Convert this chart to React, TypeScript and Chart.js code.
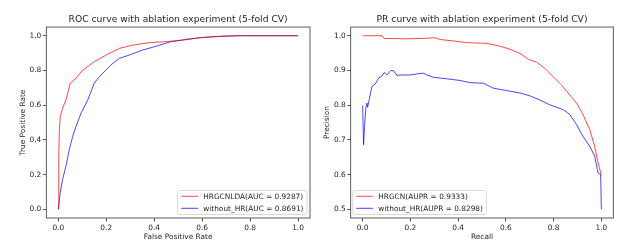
import React, { useEffect, useRef } from 'react';
import { Chart, registerables } from 'chart.js';

Chart.register(...registerables);

// ---------- data ----------
const rocTickValues = [0, 0.2, 0.4, 0.6, 0.8, 1.0];
const prYTickValues = [0.5, 0.6, 0.7, 0.8, 0.9, 1.0];

const rocRedLabel = 'HRGCNLDA(AUC = 0.9287)';
const rocRedFpr = [0, 0.002, 0.004, 0.008, 0.018, 0.032, 0.05, 0.074, 0.1, 0.15, 0.2, 0.255, 0.31, 0.38, 0.45, 0.52, 0.59, 0.66, 0.73, 1.0];
const rocRedTpr = [0, 0.3, 0.44, 0.535, 0.583, 0.63, 0.727, 0.755, 0.8, 0.85, 0.889, 0.927, 0.946, 0.96, 0.966, 0.975, 0.989, 0.996, 1.0, 1.0];

const rocBlueLabel = 'without_HR(AUC = 0.8691)';
const rocBlueFpr = [0, 0.008, 0.018, 0.032, 0.046, 0.06, 0.074, 0.095, 0.123, 0.15, 0.172, 0.193, 0.22, 0.255, 0.297, 0.353, 0.41, 0.465, 0.535, 0.605, 0.675, 0.76, 1.0];
const rocBlueTpr = [0, 0.096, 0.172, 0.249, 0.344, 0.42, 0.478, 0.554, 0.63, 0.727, 0.765, 0.794, 0.832, 0.87, 0.889, 0.918, 0.94, 0.964, 0.979, 0.99, 0.996, 1.0, 1.0];

const prRedLabel = 'HRGCN(AUPR = 0.9333)';
const prRedRecall = [0, 0.081, 0.09, 0.143, 0.171, 0.24, 0.304, 0.325, 0.38, 0.436, 0.52, 0.575, 0.617, 0.659, 0.694, 0.728, 0.763, 0.798, 0.833, 0.868, 0.896, 0.923, 0.951, 0.972, 0.986, 1.0];
const prRedPrecision = [1.0, 1.0, 0.992, 0.992, 0.991, 0.992, 0.994, 0.989, 0.985, 0.98, 0.978, 0.97, 0.961, 0.949, 0.932, 0.924, 0.906, 0.882, 0.858, 0.829, 0.806, 0.773, 0.73, 0.682, 0.634, 0.598];

const prBlueLabel = 'without_HR(AUPR = 0.8298)';
const prBlueRecall = [0, 0.004, 0.008, 0.014, 0.018, 0.021, 0.028, 0.039, 0.053, 0.067, 0.081, 0.09, 0.102, 0.118, 0.13, 0.143, 0.171, 0.2, 0.227, 0.255, 0.269, 0.297, 0.352, 0.408, 0.45, 0.506, 0.547, 0.603, 0.659, 0.7, 0.742, 0.784, 0.84, 0.868, 0.896, 0.923, 0.951, 0.972, 0.986, 0.993, 0.997, 1.0];
const prBluePrecision = [0.798, 0.686, 0.739, 0.796, 0.806, 0.794, 0.817, 0.854, 0.861, 0.878, 0.884, 0.894, 0.887, 0.9, 0.899, 0.886, 0.887, 0.887, 0.89, 0.892, 0.887, 0.88, 0.876, 0.871, 0.865, 0.863, 0.849, 0.842, 0.835, 0.827, 0.815, 0.801, 0.787, 0.773, 0.744, 0.71, 0.682, 0.653, 0.605, 0.602, 0.6, 0.5];

// ---------- style ----------
const FONT = 'DejaVu Sans';
const FS = 7.4;
const TEXT = '#262626';
const RED = 'rgba(255,0,0,0.72)';
const BLUE = 'rgba(0,0,255,0.72)';

const toPoints = (xs: number[], ys: number[]) => xs.map((x, i) => ({ x, y: ys[i] }));

const framePlugin = {
  id: 'frameLegend',
  afterDraw(chart: any, _args: any, opts: any) {
    const { ctx, chartArea: a } = chart;
    ctx.save();
    // frame
    ctx.strokeStyle = '#333';
    ctx.lineWidth = 0.8;
    ctx.strokeRect(a.left, a.top, a.right - a.left, a.bottom - a.top);
    // legend
    ctx.font = `${FS}px "${FONT}"`;
    const ds = chart.data.datasets;
    const textW = Math.max(...ds.map((d: any) => ctx.measureText(d.label).width));
    const padL = 3.5, lineLen = 17, gap = 5, padR = 3.5, rowH = 12, boxH = 24;
    const boxW = padL + lineLen + gap + textW + padR;
    const x0 = opts.corner === 'right' ? a.right - 3 - boxW : a.left + 2;
    const y0 = a.bottom - 3.5 - boxH;
    ctx.beginPath();
    const r = 2;
    ctx.moveTo(x0 + r, y0);
    ctx.arcTo(x0 + boxW, y0, x0 + boxW, y0 + boxH, r);
    ctx.arcTo(x0 + boxW, y0 + boxH, x0, y0 + boxH, r);
    ctx.arcTo(x0, y0 + boxH, x0, y0, r);
    ctx.arcTo(x0, y0, x0 + boxW, y0, r);
    ctx.closePath();
    ctx.fillStyle = 'rgba(255,255,255,0.85)';
    ctx.fill();
    ctx.strokeStyle = '#d0d0d0';
    ctx.lineWidth = 0.8;
    ctx.stroke();
    ds.forEach((d: any, i: number) => {
      const y = y0 + 5.8 + i * rowH;
      ctx.strokeStyle = d.borderColor;
      ctx.lineWidth = 1;
      ctx.beginPath();
      ctx.moveTo(x0 + padL, y);
      ctx.lineTo(x0 + padL + lineLen, y);
      ctx.stroke();
      ctx.fillStyle = TEXT;
      ctx.textBaseline = 'middle';
      ctx.textAlign = 'left';
      ctx.fillText(d.label, x0 + padL + lineLen + gap, y + 0.5);
    });
    ctx.restore();
  },
};

function makeScale(opts: {
  axis: 'x' | 'y';
  min: number;
  max: number;
  ticks: number[];
  title: string;
  size: number;
  titlePad: number;
}) {
  const isX = opts.axis === 'x';
  return {
    type: 'linear',
    position: isX ? 'bottom' : 'left',
    min: opts.min,
    max: opts.max,
    afterBuildTicks: (s: any) => {
      s.ticks = opts.ticks.map((v) => ({ value: v }));
    },
    afterFit: (s: any) => {
      if (isX) s.height = opts.size;
      else s.width = opts.size;
    },
    ticks: {
      autoSkip: false,
      maxRotation: 0,
      font: { family: FONT, size: FS },
      color: TEXT,
      padding: isX ? 2 : 1.5,
      callback: (v: any) => Number(v).toFixed(1),
    },
    grid: {
      display: true,
      drawOnChartArea: false,
      drawTicks: true,
      tickLength: 3.5,
      color: '#333',
      lineWidth: 0.8,
    },
    border: { display: false },
    title: {
      display: true,
      text: opts.title,
      color: TEXT,
      font: { family: FONT, size: FS },
      padding: isX ? { top: 0, bottom: opts.titlePad } : { top: opts.titlePad, bottom: 0 },
    },
  };
}

function buildConfig(p: {
  title: string;
  datasets: { label: string; color: string; xs: number[]; ys: number[] }[];
  xTitle: string;
  yTitle: string;
  yMin: number;
  yMax: number;
  yTicks: number[];
  yWidth: number;
  yTitlePad: number;
  padRight: number;
  legendCorner: 'left' | 'right';
}) {
  return {
    type: 'line',
    data: {
      datasets: p.datasets.map((d) => ({
        label: d.label,
        data: toPoints(d.xs, d.ys),
        borderColor: d.color,
        backgroundColor: d.color,
        borderWidth: 1,
        pointRadius: 0,
        tension: 0,
        fill: false,
      })),
    },
    options: {
      responsive: false,
      animation: false,
      layout: { padding: { left: 0, right: p.padRight, top: 0, bottom: 0 } },
      scales: {
        x: makeScale({ axis: 'x', min: -0.05, max: 1.05, ticks: rocTickValues, title: p.xTitle, size: 29, titlePad: 5.3 }),
        y: makeScale({ axis: 'y', min: p.yMin, max: p.yMax, ticks: p.yTicks, title: p.yTitle, size: p.yWidth, titlePad: p.yTitlePad }),
      },
      plugins: {
        legend: { display: false },
        tooltip: { enabled: false },
        title: {
          display: true,
          text: p.title,
          fullSize: false,
          color: TEXT,
          font: { family: FONT, size: 9.2, weight: 'normal' },
          padding: { top: 14.5, bottom: 1.5 },
        },
        frameLegend: { corner: p.legendCorner },
      },
    },
    plugins: [framePlugin],
  };
}

function ChartCanvas({ config, left }: { config: any; left: number }) {
  const ref = useRef<HTMLCanvasElement | null>(null);
  useEffect(() => {
    if (!ref.current) return;
    const chart = new Chart(ref.current, config);
    return () => chart.destroy();
  }, [config]);
  return (
    <canvas
      ref={ref}
      width={320}
      height={247}
      style={{ position: 'absolute', left, top: 0, width: 320, height: 247 }}
    />
  );
}

const rocConfig = buildConfig({
  title: 'ROC curve with ablation experiment (5-fold CV)',
  datasets: [
    { label: rocRedLabel, color: RED, xs: rocRedFpr, ys: rocRedTpr },
    { label: rocBlueLabel, color: BLUE, xs: rocBlueFpr, ys: rocBlueTpr },
  ],
  xTitle: 'False Positive Rate',
  yTitle: 'True Positive Rate',
  yMin: -0.05,
  yMax: 1.05,
  yTicks: rocTickValues,
  yWidth: 46.3,
  yTitlePad: 18.3,
  padRight: 10,
  legendCorner: 'right',
});

const prConfig = buildConfig({
  title: 'PR curve with ablation experiment (5-fold CV)',
  datasets: [
    { label: prRedLabel, color: RED, xs: prRedRecall, ys: prRedPrecision },
    { label: prBlueLabel, color: BLUE, xs: prBlueRecall, ys: prBluePrecision },
  ],
  xTitle: 'Recall',
  yTitle: 'Precision',
  yMin: 0.475,
  yMax: 1.025,
  yTicks: prYTickValues,
  yWidth: 30.7,
  yTitlePad: 2.3,
  padRight: 26.7,
  legendCorner: 'left',
});

export default function App() {
  return (
    <div style={{ position: 'absolute', left: 0, top: 0, width: 640, height: 247, background: '#fff' }}>
      <ChartCanvas config={rocConfig} left={0} />
      <ChartCanvas config={prConfig} left={320} />
    </div>
  );
}
